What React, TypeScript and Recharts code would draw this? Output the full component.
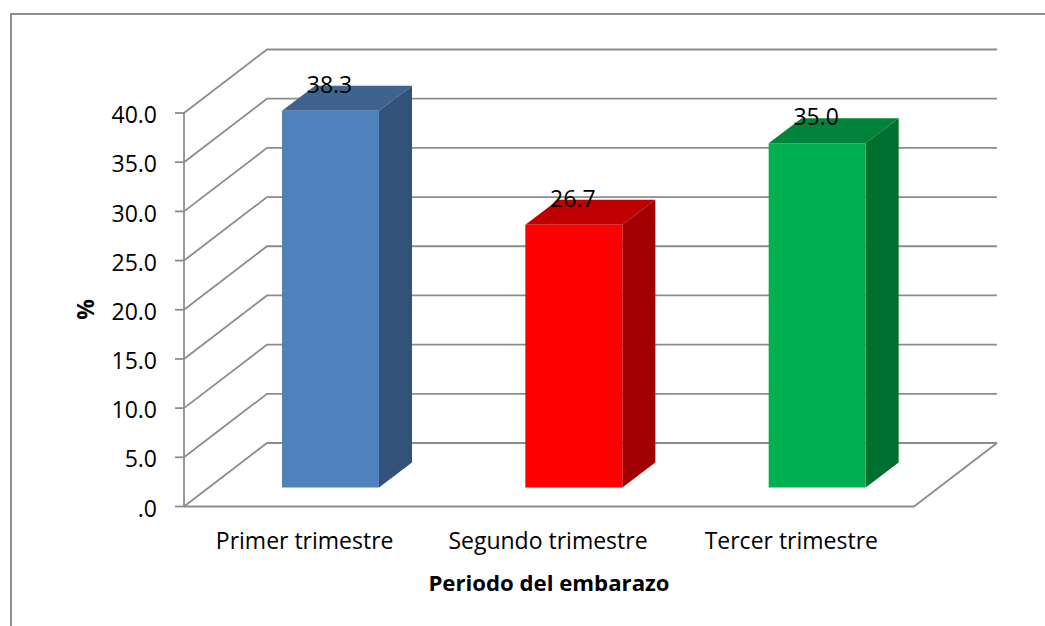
import { Bar, BarChart, CartesianGrid, LabelList, XAxis, YAxis } from "recharts";

const periods = ["Primer trimestre", "Segundo trimestre", "Tercer trimestre"];
const percentages = [38.3, 26.7, 35.0];
const yTicks = [0, 5, 10, 15, 20, 25, 30, 35, 40];

const frontColors = ["#4F81BD", "#FF0000", "#00B050"];
const topColors = ["#3F628E", "#C00000", "#00843C"];
const sideColors = ["#32527A", "#A20000", "#007031"];

const chartData = periods.map((name, i) => ({ name, value: percentages[i] }));

const FONT = "'Open Sans', sans-serif";
const AXIS_GRAY = "#8C8C8C";
const LINE_WIDTH = 1.8;

// fake 3D: how far the back wall sits from the front plane
const WALL_DX = 83;
const WALL_DY = -63.5;
// bars stand in the middle of the floor, with their own depth
const BAR_DX = 25;
const BAR_DY = -19;
const DEPTH_DX = 33;
const DEPTH_DY = -25;

function WallGridLine(props: any) {
  const { x1, x2, y1, index } = props;
  const isFloor = Math.abs(y1 - 506.5) < 1;
  const backY = y1 + WALL_DY;
  return (
    <g key={`wall-${index}`}>
      <polyline
        points={`${x1},${y1} ${x1 + WALL_DX},${backY} ${x2 + WALL_DX},${backY}`}
        fill="none"
        stroke={AXIS_GRAY}
        strokeWidth={LINE_WIDTH}
      />
      {isFloor && (
        <line
          x1={x2}
          y1={y1}
          x2={x2 + WALL_DX}
          y2={backY}
          stroke={AXIS_GRAY}
          strokeWidth={LINE_WIDTH}
        />
      )}
    </g>
  );
}

function Bar3D(props: any) {
  const { x, y, width, height, index } = props;
  const left = x + BAR_DX;
  const right = left + width;
  const top = y + BAR_DY;
  const bottom = top + height;
  return (
    <g>
      <polygon
        points={`${left},${top} ${right},${top} ${right + DEPTH_DX},${top + DEPTH_DY} ${left + DEPTH_DX},${top + DEPTH_DY}`}
        fill={topColors[index]}
      />
      <polygon
        points={`${right},${top} ${right + DEPTH_DX},${top + DEPTH_DY} ${right + DEPTH_DX},${bottom + DEPTH_DY} ${right},${bottom}`}
        fill={sideColors[index]}
      />
      <rect x={left} y={top} width={width} height={height} fill={frontColors[index]} />
    </g>
  );
}

function ValueLabel(props: any) {
  const { x, y, width, value } = props;
  return (
    <text
      x={x + BAR_DX + width / 2 - 1}
      y={y + BAR_DY - 18}
      textAnchor="middle"
      fontFamily={FONT}
      fontSize={23}
      fill="#000"
    >
      {value.toFixed(1)}
    </text>
  );
}

export default function App() {
  return (
    <div style={{ position: "absolute", left: 0, top: 0, width: 1045, height: 626, overflow: "hidden", background: "#fff" }}>
      {/* chart frame runs off the right and bottom edges */}
      <div
        style={{
          position: "absolute",
          left: 10,
          top: 13,
          width: 1100,
          height: 700,
          borderLeft: "2px solid #8E8E8E",
          borderTop: "2px solid #8E8E8E",
        }}
      />
      <div style={{ position: "absolute", left: 0, top: 0 }}>
        <BarChart
          width={1045}
          height={626}
          data={chartData}
          margin={{ top: 113, right: 131, bottom: 29.5, left: 84 }}
        >
          <CartesianGrid vertical={false} horizontal={WallGridLine} />
          <XAxis
            dataKey="name"
            height={90}
            tickLine={false}
            tickMargin={20}
            axisLine={{ stroke: AXIS_GRAY, strokeWidth: LINE_WIDTH }}
            tick={{ fontFamily: FONT, fontSize: 23, fill: "#000", dx: -1 }}
            label={{
              value: "Periodo del embarazo",
              position: "insideBottom",
              offset: 6,
              style: { fontFamily: FONT, fontSize: 22.2, fontWeight: 700, fill: "#000" },
            }}
          />
          <YAxis
            width={100}
            domain={[0, 40]}
            ticks={yTicks}
            interval={0}
            tickSize={9}
            tickMargin={18}
            tickFormatter={(v: number) => (v === 0 ? ".0" : v.toFixed(1))}
            axisLine={{ stroke: AXIS_GRAY, strokeWidth: LINE_WIDTH }}
            tickLine={{ stroke: AXIS_GRAY, strokeWidth: LINE_WIDTH }}
            tick={{ fontFamily: FONT, fontSize: 23, fill: "#000", dy: 2 }}
            label={{
              value: "%",
              angle: -90,
              position: "insideLeft",
              offset: 2,
              dy: 10,
              style: { fontFamily: FONT, fontSize: 23, fontWeight: 700, fill: "#000" },
            }}
          />
          <Bar dataKey="value" barSize={97} shape={Bar3D} isAnimationActive={false}>
            <LabelList dataKey="value" content={ValueLabel} />
          </Bar>
        </BarChart>
      </div>
    </div>
  );
}
